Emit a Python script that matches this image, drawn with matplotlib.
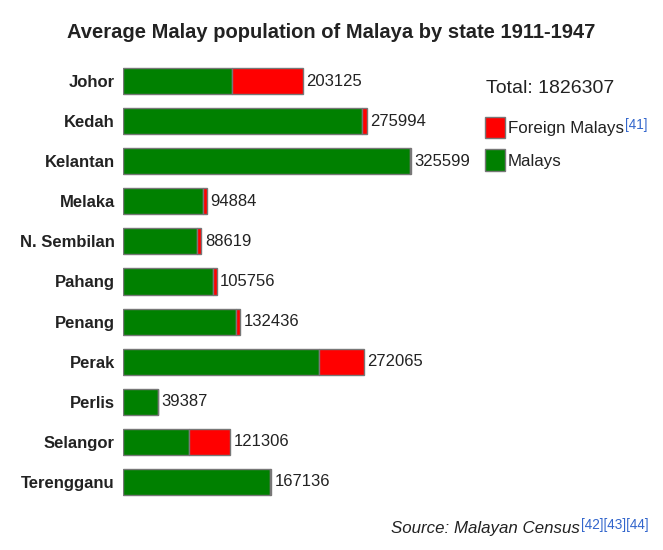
import numpy as np
import matplotlib.pyplot as plt
from matplotlib import font_manager

# Data
states = ["Johor", "Kedah", "Kelantan", "Melaka", "N. Sembilan", "Pahang",
          "Penang", "Perak", "Perlis", "Selangor", "Terengganu"]
totals = [203125, 275994, 325599, 94884, 88619, 105756,
          132436, 272065, 39387, 121306, 167136]
malays = [123225, 270594, 323999, 89984, 84119, 101556,
          127636, 221500, 39087, 74606, 166736]
foreign = [79900, 5400, 1600, 4900, 4500, 4200,
           4800, 50565, 300, 46700, 400]
grand_total = 1826307

GREEN = "#008000"
RED = "#ff0000"
EDGE = "#777777"
TEXT = "#222222"
LINK = "#3366cc"

names = {f.name for f in font_manager.fontManager.ttflist}
narrow = "Liberation Sans Narrow" if "Liberation Sans Narrow" in names else "Liberation Sans"
plt.rcParams["font.family"] = ["Liberation Sans", "DejaVu Sans"]

W, H = 663, 550
fig = plt.figure(figsize=(W / 100, H / 100), dpi=100)
ax = fig.add_axes([123 / W, 1 - 502 / H, 540 / W, 441 / H])

y = np.arange(len(states))
b_mal = ax.barh(y, malays, height=0.65, color=GREEN, edgecolor=EDGE, linewidth=1, label="Malays")
b_for = ax.barh(y, foreign, left=malays, height=0.65, color=RED, edgecolor=EDGE, linewidth=1,
                label="Foreign Malays")

for yi, t in zip(y, totals):
    ax.annotate(str(t), (t, yi), xytext=(2.5, 0), textcoords="offset points",
                va="center", ha="left", fontsize=12, color=TEXT)

ax.set_xlim(0, 540 / 0.0008845)
ax.set_ylim(len(states) - 0.5, -0.5)
ax.set_yticks(y)
ax.set_yticklabels(states, fontsize=12, fontweight="bold", color=TEXT)
ax.tick_params(axis="y", length=0, pad=6)
ax.set_xticks([])
for s in ax.spines.values():
    s.set_visible(False)

fig.text(0.5, 1 - 33 / H, "Average Malay population of Malaya by state 1911-1947",
         ha="center", va="center", fontsize=14.5, fontweight="bold", color=TEXT,
         family=[narrow, "DejaVu Sans"])

# legend
fig.text(486 / W, 1 - 93 / H, "Total: %d" % grand_total, ha="left", va="baseline",
         fontsize=14, color=TEXT)
leg = ax.legend(handles=[b_for, b_mal], labels=["Foreign Malays", "Malays"],
                loc="upper left", bbox_to_anchor=(485 / W, 1 - 117 / H),
                bbox_transform=fig.transFigure, frameon=False, fontsize=12.2,
                handlelength=1.2, handleheight=1.55, handletextpad=0.15,
                labelspacing=0.66, borderaxespad=0, borderpad=0)
for t in leg.get_texts():
    t.set_color(TEXT)

src = fig.text(391 / W, 1 - 528 / H, "Source: Malayan Census", ha="left", va="center",
               fontsize=12.2, style="italic", color=TEXT)

fig.canvas.draw()
r = fig.canvas.get_renderer()


def sup(txt_obj, s):
    bb = txt_obj.get_window_extent(r)
    fig.text((bb.x1 + 1) / W, (bb.y1 + 3) / H, s,
             ha="left", va="top", fontsize=9.8, color=LINK)


sup(leg.get_texts()[0], "[41]")
sup(src, "[42][43][44]")

fig.savefig("out.png", dpi=100)
